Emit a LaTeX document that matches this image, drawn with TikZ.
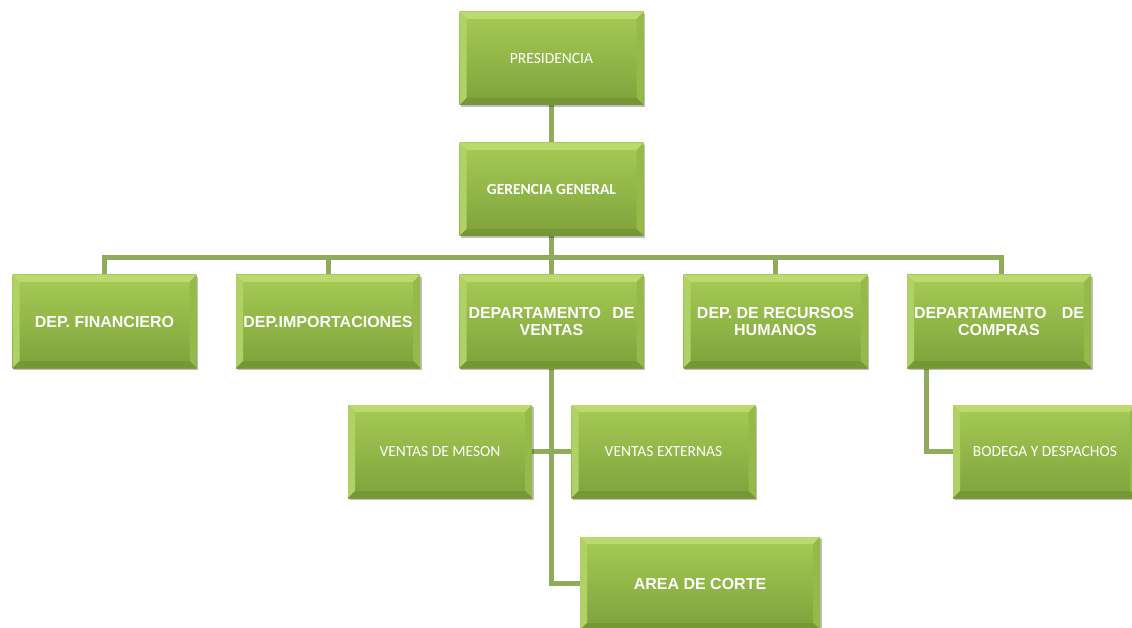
\documentclass[tikz,border=0pt]{standalone}
\usepackage{fontspec}
\setmainfont{Liberation Sans}
\newfontfamily\carl{Carlito}
\newfontfamily\arl{Liberation Sans}
\usetikzlibrary{shadows,backgrounds}
\definecolor{gtop}{RGB}{166,203,84}
\definecolor{gbot}{RGB}{126,162,60}
\definecolor{bevT}{RGB}{186,218,112}
\definecolor{bevL}{RGB}{176,210,100}
\definecolor{bevR}{RGB}{150,186,74}
\definecolor{bevB}{RGB}{118,152,52}
\definecolor{lineC}{RGB}{143,172,92}
\tikzset{
  box/.style={draw=none, minimum width=184pt, minimum height=93pt, inner sep=0pt,
    text=white, top color=gtop, bottom color=gbot, align=center,
    drop shadow={shadow xshift=1.5pt, shadow yshift=-2pt, opacity=0.25, fill=black},
    path picture={
      \fill[bevT] (path picture bounding box.north west) -- (path picture bounding box.north east)
        -- ([xshift=-7pt,yshift=-7pt]path picture bounding box.north east)
        -- ([xshift=7pt,yshift=-7pt]path picture bounding box.north west) -- cycle;
      \fill[bevL] (path picture bounding box.north west) -- (path picture bounding box.south west)
        -- ([xshift=7pt,yshift=7pt]path picture bounding box.south west)
        -- ([xshift=7pt,yshift=-7pt]path picture bounding box.north west) -- cycle;
      \fill[bevR] (path picture bounding box.north east) -- (path picture bounding box.south east)
        -- ([xshift=-7pt,yshift=7pt]path picture bounding box.south east)
        -- ([xshift=-7pt,yshift=-7pt]path picture bounding box.north east) -- cycle;
      \fill[bevB] (path picture bounding box.south west) -- (path picture bounding box.south east)
        -- ([xshift=-7pt,yshift=7pt]path picture bounding box.south east)
        -- ([xshift=7pt,yshift=7pt]path picture bounding box.south west) -- cycle;
    }},
  regtxt/.style={font=\carl\fontsize{15.5}{18}\selectfont},
  boldc/.style={font=\carl\bfseries\fontsize{15.5}{18}\selectfont},
  bolda/.style={font=\arl\bfseries\fontsize{16}{17}\selectfont},
  conn/.style={draw=lineC, line width=5pt}
}
\begin{document}
\begin{tikzpicture}[x=1pt,y=-1pt]
\useasboundingbox (0,0) rectangle (1132,628);
\node[box,regtxt] (pre) at (551.5,58.5) {PRESIDENCIA};
\node[box,boldc] (ger) at (551.5,189.5) {GERENCIA GENERAL};
\node[box,bolda] (fin) at (104.5,321.5) {DEP. FINANCIERO};
\node[box,bolda] (imp) at (328,321.5) {DEP.IMPORTACIONES};
\node[box,bolda,text width=166pt] (ven) at (551.5,321.5) {DEPARTAMENTO\hfill DE\\VENTAS};
\node[box,bolda] (rrh) at (775.5,321.5) {DEP. DE RECURSOS\\HUMANOS};
\node[box,bolda,text width=170pt] (com) at (999,321.5) {DEPARTAMENTO\hfill DE\\COMPRAS};
\node[box,regtxt] (mes) at (440,451.5) {VENTAS DE MESON};
\node[box,regtxt] (ext) at (663.5,451.5) {VENTAS EXTERNAS};
\node[box,bolda,minimum width=240pt] (cor) at (700,583.5) {AREA DE CORTE};
\node[box,regtxt] (bod) at (1045,451.5) {BODEGA Y DESPACHOS};
\coordinate (busL) at (104.5,258);
\coordinate (busR) at (1001,258);
\coordinate (comL) at (926,368);
\begin{scope}[on background layer]
\draw[conn] (pre.south) -- (ger.north);
\draw[conn] (ger.south) -- (ven.north);
\draw[conn] (fin.north) -- (busL) -- (busR) -- (com.north -| busR);
\draw[conn] (imp.north) -- (imp.north |- busL);
\draw[conn] (rrh.north) -- (rrh.north |- busL);
\draw[conn] (ven.south) |- (cor.west);
\draw[conn] (mes.east) -- (ext.west);
\draw[conn] (comL) |- (bod.west);
\end{scope}
\end{tikzpicture}
\end{document}
